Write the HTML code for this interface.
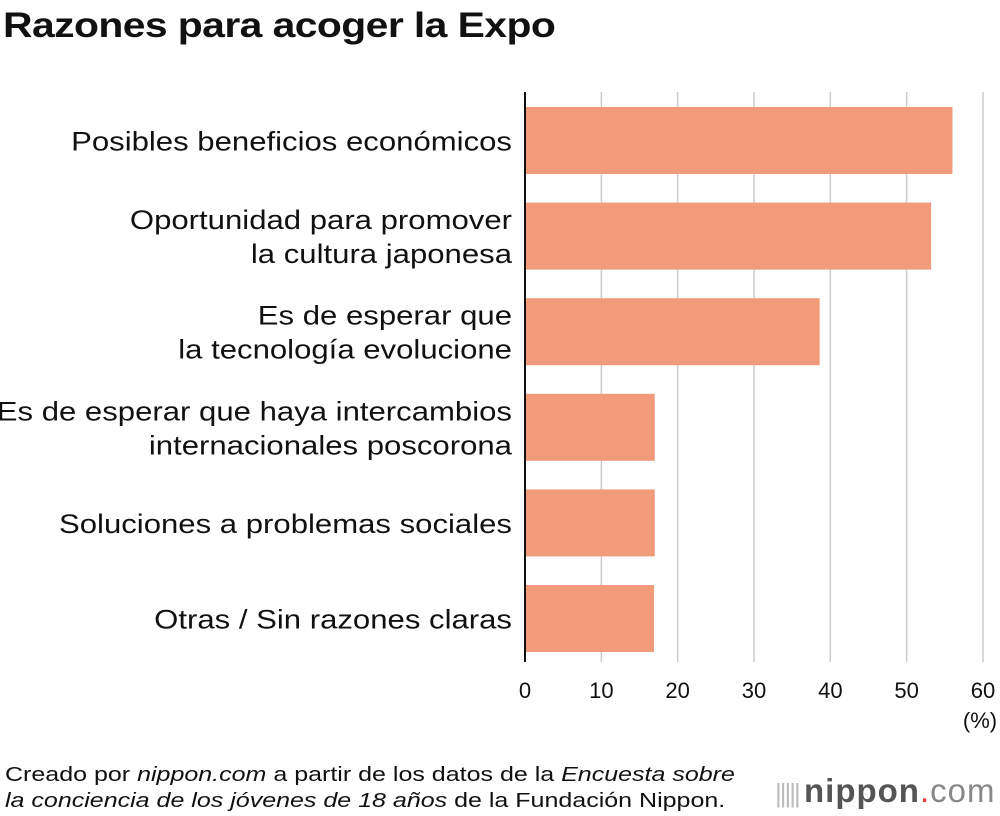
<!DOCTYPE html>
<html><head><meta charset="utf-8"><style>
body{margin:0;width:1000px;height:816px;background:#fff;font-family:"Liberation Sans",sans-serif;overflow:hidden;position:relative}
#title{position:absolute;left:3px;top:6px;font-size:35px;font-weight:bold;color:#111;letter-spacing:-0.5px;transform:scaleX(1.168);transform-origin:0 0;white-space:nowrap}
#src{position:absolute;left:5px;top:762px;font-size:20.5px;line-height:26px;color:#111;transform:scaleX(1.22);transform-origin:0 0;white-space:nowrap}
#logo{position:absolute;left:775px;top:772px;font-size:33px;color:#666;letter-spacing:1px}
</style></head><body>
<div id="title">Razones para acoger la Expo</div>
<svg id="chart" width="1000" height="816" style="position:absolute;left:0;top:0"></svg>
<div id="src">Creado por <i>nippon.com</i> a partir de los datos de la <i>Encuesta sobre</i><br><i>la conciencia de los jóvenes de 18 años</i> de la Fundación Nippon.</div>
<div id="logo"><span style="font-size:26px;color:#bbb;letter-spacing:-2px">||||| </span><b style="color:#555">nippon</b><span style="color:#e33">.</span><span style="color:#888">com</span></div>
<script>
const categories=[["Posibles beneficios económicos"],["Oportunidad para promover","la cultura japonesa"],["Es de esperar que","la tecnología evolucione"],["Es de esperar que haya intercambios","internacionales poscorona"],["Soluciones a problemas sociales"],["Otras / Sin razones claras"]];
const values=[56,53.2,38.6,17,17,16.9];
const ticks=[0,10,20,30,40,50,60];
const NS="http://www.w3.org/2000/svg";
const svg=document.getElementById('chart');
const x=v=>525+v*(983-525)/60;
const y=i=>107+i*95.6;
const bh=67;
function mk(t,a){const e=document.createElementNS(NS,t);for(const k in a)e.setAttribute(k,a[k]);svg.appendChild(e);return e;}
ticks.forEach(t=>{
 if(t>0){const g=mk('line',{x1:x(t),x2:x(t),y1:92,y2:662,stroke:'#ccc','stroke-width':1.5});
 
 }
 const l=mk('text',{x:x(t),y:698,'text-anchor':'middle','font-size':22,fill:'#111'});l.textContent=t;
 
 
});
const u=mk('text',{x:980,y:728,'text-anchor':'middle','font-size':22,fill:'#111'});u.textContent='(%)';


values.forEach((v,i)=>{
 const r=mk('rect',{x:x(0),y:y(i),width:x(v)-x(0),height:bh,fill:'#f19b7b'});
 
 
 const lines=categories[i];
 const cy=y(i)+bh/2;
 lines.forEach((s,j)=>{
  const t=mk('text',{x:512,y:cy+10+(j-(lines.length-1)/2)*34,'text-anchor':'end','font-size':27,fill:'#111'});
  t.textContent=s;
  
  
  const w=t.getComputedTextLength();
  t.setAttribute('textLength',w*1.152);
  t.setAttribute('lengthAdjust','spacingAndGlyphs');
 });
});
const ax=mk('line',{x1:525,x2:525,y1:92,y2:662,stroke:'#111','stroke-width':2});


</script>
</body></html>
